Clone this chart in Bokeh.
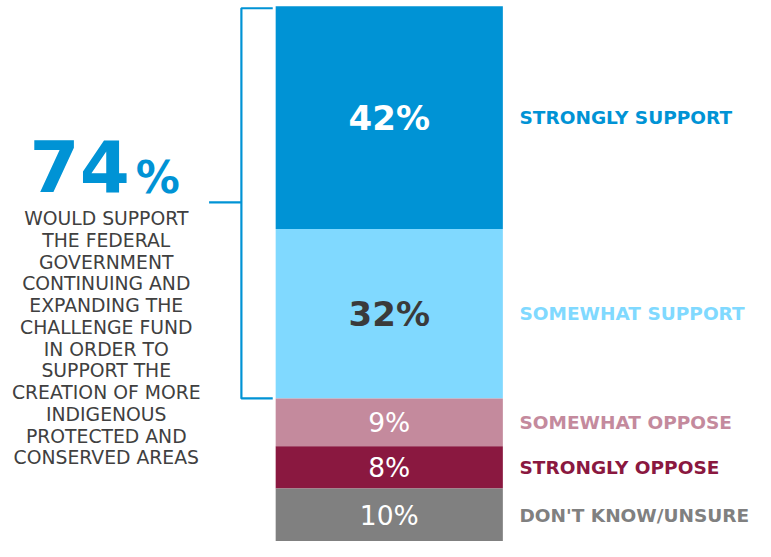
from bokeh.plotting import figure
from bokeh.models import ColumnDataSource, Range1d
from bokeh.core.properties import value
from bokeh.embed import file_html
from bokeh.resources import INLINE

# ---- data ----
categories = ["STRONGLY SUPPORT", "SOMEWHAT SUPPORT", "SOMEWHAT OPPOSE",
              "STRONGLY OPPOSE", "DON'T KNOW/UNSURE"]
shares = [42, 32, 9, 8, 10]
share_labels = ["42%", "32%", "9%", "8%", "10%"]
support_total = 74
support_labels = ["74", "%"]
summary_lines = ["WOULD SUPPORT", "THE FEDERAL", "GOVERNMENT", "CONTINUING AND",
                 "EXPANDING THE", "CHALLENGE FUND", "IN ORDER TO", "SUPPORT THE",
                 "CREATION OF MORE", "INDIGENOUS", "PROTECTED AND",
                 "CONSERVED AREAS"]

# ---- styles ----
bar_colors = ["#0093D5", "#80D9FF", "#C48A9D", "#8A1840", "#808080"]
pct_colors = ["#FFFFFF", "#3A3A3A", "#FFFFFF", "#FFFFFF", "#FFFFFF"]
pct_bold = [True, True, False, False, False]
FONT = value("DejaVu Sans")
BLUE = "#0093D5"
GREY_TEXT = "#404040"

W, H = 755, 541          # figure size in screen pixels
REF_W, REF_H = 771, 557  # layout is designed on this canvas, then scaled
PX = 5.455               # design pixels per percentage point


def ry(py):
    # design-canvas row -> data value
    return (REF_H - py) / PX


tops = [sum(shares[i:]) for i in range(len(shares))]
bottoms = [t - s for t, s in zip(tops, shares)]
mids = [(t + b) / 2 for t, b in zip(tops, bottoms)]

p = figure(width=W, height=H, x_range=Range1d(0, REF_W),
           y_range=Range1d(0, ry(0)),
           output_backend="svg", toolbar_location=None, min_border=0,
           x_axis_type=None, y_axis_type=None)
p.grid.visible = False
p.outline_line_color = None
p.background_fill_color = "white"
p.border_fill_color = "white"

bar_x = 397
bar_w = 232
src = ColumnDataSource(dict(x=[bar_x] * len(shares), top=tops, bottom=bottoms,
                            color=bar_colors))
p.vbar(x="x", top="top", bottom="bottom", width=bar_w, fill_color="color",
       line_color=None, source=src)

# percentage labels inside the bar
bold_idx = [i for i, b in enumerate(pct_bold) if b]
norm_idx = [i for i, b in enumerate(pct_bold) if not b]
p.text(x=[bar_x] * len(bold_idx), y=[mids[i] for i in bold_idx],
       text=[share_labels[i] for i in bold_idx],
       text_color=[pct_colors[i] for i in bold_idx],
       text_font=FONT, text_font_size="34px", text_font_style="bold",
       text_align="center", text_baseline="middle")
p.text(x=[bar_x] * len(norm_idx), y=[mids[i] for i in norm_idx],
       text=[share_labels[i] for i in norm_idx],
       text_color=[pct_colors[i] for i in norm_idx],
       text_font=FONT, text_font_size="26.5px", text_font_style="normal",
       text_align="center", text_baseline="middle")

# category labels at the right
p.text(x=[530] * len(categories), y=mids, text=categories,
       text_color=bar_colors, text_font=FONT, text_font_size="18.5px",
       text_font_style="bold", text_align="left", text_baseline="middle")

# bracket over the support segments
sup_top = tops[0]
sup_bot = tops[0] - support_total
sup_mid = (sup_top + sup_bot) / 2
p.multi_line(xs=[[278, 246, 246, 278], [213, 246]],
             ys=[[ry(8), ry(8), sup_bot, sup_bot], [sup_mid, sup_mid]],
             line_color=BLUE, line_width=2.2)

# big 74%
p.text(x=[132], y=[ry(169.5)], text=[support_labels[0]], text_color=BLUE,
       text_font=FONT, text_font_size="72px", text_font_style="bold",
       text_align="right", text_baseline="middle")
p.text(x=[138], y=[ry(182.5)], text=[support_labels[1]], text_color=BLUE,
       text_font=FONT, text_font_size="44px", text_font_style="bold",
       text_align="left", text_baseline="middle")

# summary text
p.text(x=[108] * len(summary_lines),
       y=[ry(224.5 + 22.4 * i) for i in range(len(summary_lines))],
       text=summary_lines, text_color=GREY_TEXT, text_font=FONT,
       text_font_size="18.8px", text_align="center", text_baseline="middle")

open("out.html", "w").write(file_html(p, INLINE))
